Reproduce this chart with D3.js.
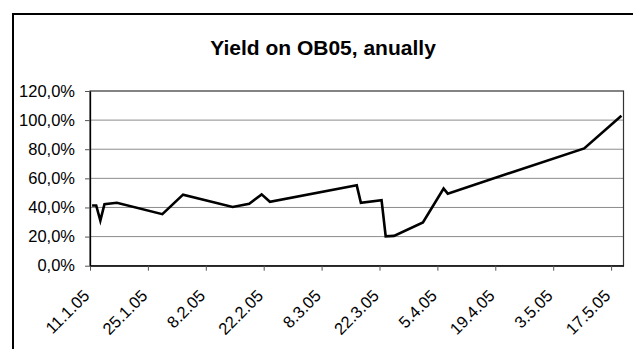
<!DOCTYPE html>
<html>
<head>
<meta charset="utf-8">
<script src="https://cdn.jsdelivr.net/npm/d3@7"></script>
<style>
  body { margin: 0; background: #fff; }
  svg { display: block; font-family: "Liberation Sans", Arial, sans-serif; }
</style>
</head>
<body>
<script>
    // values
    let dates = ["11.1.05", "12.1.05", "13.1.05", "14.1.05", "17.1.05", "28.1.05", "2.2.05",
                 "14.2.05", "18.2.05", "21.2.05", "23.2.05", "16.3.05", "17.3.05", "22.3.05",
                 "23.3.05", "25.3.05", "1.4.05", "6.4.05", "7.4.05", "10.5.05", "19.5.05"];
    let yields = [41.4, 41.4, 31, 42.3, 43.2, 35.4, 48.8,
                  40.3, 42.6, 49, 43.9, 55.2, 43.2, 45,
                  20.2, 20.5, 29.7, 53, 49.5, 80.6, 103];
    let xTicks = ["11.1.05", "25.1.05", "8.2.05", "22.2.05", "8.3.05", "22.3.05",
                  "5.4.05", "19.4.05", "3.5.05", "17.5.05"];
    let yTicks = [0, 20, 40, 60, 80, 100, 120];

    let parse = d3.timeParse("%d.%m.%y"),
        fmt = d3.timeFormat("%-d.%-m.%y"),
        pct = (v) => d3.format(".1f")(v).replace(".", ",") + "%";

    let data = dates.map((d, i) => ({date: parse(d), value: yields[i]}));

    let width = 633, height = 349;
    let plot = {"left": 90, "right": 623.5, "top": 91, "bottom": 265.7};

    const svg = d3.select("body")
      .append("svg")
      .attr("width", width)
      .attr("height", height);

    // outer chart frame, runs off the right and bottom edge
    svg.append("rect")
      .attr("x", 13)
      .attr("y", 14)
      .attr("width", 700)
      .attr("height", 400)
      .attr("fill", "none")
      .attr("stroke", "#000")
      .attr("stroke-width", 2);

    svg.append("text")
      .text("Yield on OB05, anually")
      .attr("x", 323)
      .attr("y", 55)
      .attr("text-anchor", "middle")
      .style("font-size", "21px")
      .style("font-weight", "bold");

    let xscale = d3.scaleTime()
      .domain([parse("11.1.05"), parse("20.5.05")])
      .range([plot.left, plot.right]);

    let yscale = d3.scaleLinear()
      .domain([0, 120])
      .range([plot.bottom, plot.top]);

    // gridlines
    svg.append("g")
      .selectAll("line")
      .data(yTicks.slice(1, -1))
      .enter()
      .append("line")
      .attr("x1", plot.left)
      .attr("x2", plot.right)
      .attr("y1", (d) => yscale(d))
      .attr("y2", (d) => yscale(d))
      .attr("stroke", "#8c8c8c")
      .attr("stroke-width", 1);

    // plot area border
    svg.append("rect")
      .attr("x", plot.left)
      .attr("y", plot.top)
      .attr("width", plot.right - plot.left)
      .attr("height", plot.bottom - plot.top)
      .attr("fill", "none")
      .attr("stroke", "#333")
      .attr("stroke-width", 1.2);

    let x_axis = d3.axisBottom()
      .scale(xscale)
      .tickValues(xTicks.map(parse))
      .tickFormat(fmt)
      .tickSize(5)
      .tickSizeOuter(0);

    let gx = svg.append("g")
      .attr("transform", "translate(0," + plot.bottom + ")")
      .call(x_axis);

    gx.select(".domain").attr("stroke", "#000").attr("stroke-width", 1.3);
    gx.selectAll(".tick line").attr("stroke", "#555");
    gx.selectAll(".tick text")
      .attr("y", 0)
      .attr("dy", 0)
      .attr("text-anchor", "end")
      .attr("transform", "translate(0,31) rotate(-45)")
      .style("font-size", "16.5px")
      .attr("fill", "#000");

    let y_axis = d3.axisLeft()
      .scale(yscale)
      .tickValues(yTicks)
      .tickFormat(pct)
      .tickSize(5)
      .tickSizeOuter(0);

    let gy = svg.append("g")
      .attr("transform", "translate(" + plot.left + ",0)")
      .call(y_axis);

    gy.select(".domain").attr("stroke", "#000").attr("stroke-width", 1.3);
    gy.selectAll(".tick line").attr("stroke", "#555");
    gy.selectAll(".tick text")
      .attr("x", -15)
      .style("font-size", "16.5px")
      .attr("fill", "#000");

    // points sit in the middle of their day
    let line = d3.line()
      .x((d) => xscale(d3.timeHour.offset(d.date, 12)))
      .y((d) => yscale(d.value));

    svg.append("path")
      .datum(data)
      .attr("d", line)
      .attr("fill", "none")
      .attr("stroke", "#000")
      .attr("stroke-width", 2.6)
      .attr("stroke-linejoin", "miter");
</script>
</body>
</html>
